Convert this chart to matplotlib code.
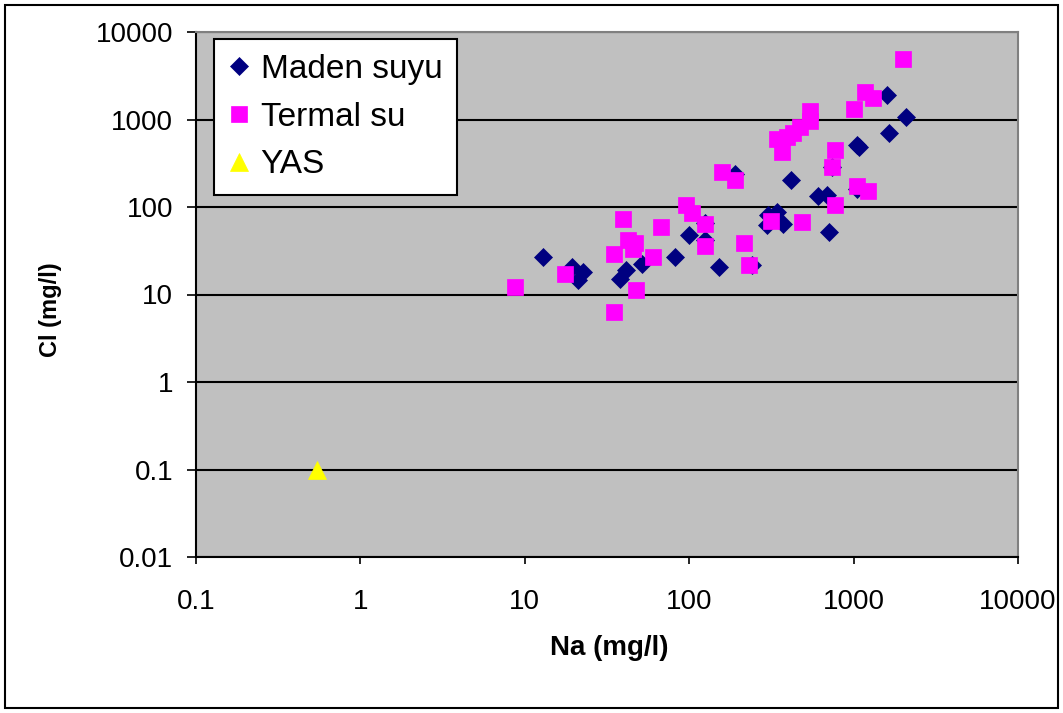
import matplotlib
matplotlib.use("Agg")
import matplotlib.pyplot as plt
from matplotlib.patches import Rectangle

plt.rcParams['font.family'] = ['Liberation Sans', 'DejaVu Sans']

# Data (Na, Cl in mg/l)
na_maden = [12.9, 19.3, 22.7, 21.1, 41.1, 37.9, 51.8, 82, 99.3, 125, 125, 152, 191, 240,
            1589, 2083, 1648, 1050, 1075, 736, 414, 607, 686, 1044, 303, 340, 370, 296, 708]
cl_maden = [26.6, 20.8, 18.2, 14.7, 19, 14.9, 22.1, 26.6, 47.9, 42, 65, 20.8, 240, 21.6,
            1890, 1059, 695, 510, 490, 290, 203, 134, 137, 160, 81, 88.5, 63.4, 62, 51.4]

na_termal = [8.75, 17.6, 35, 35, 39.4, 42.6, 46.8, 45.7, 47.7, 60.2, 67.6, 95.6, 103.5, 125,
             125, 157.7, 190.7, 214.5, 232, 2006, 1168, 1312, 1000, 541, 541, 472, 430, 395,
             340, 368, 767, 736, 1044, 1218, 767, 315, 483]
cl_termal = [12.1, 17.3, 6.3, 28.8, 73.5, 41.6, 38.5, 32.8, 11.3, 26.8, 59, 105, 84.7, 63.4,
             35.8, 253, 203, 38.5, 21.6, 4875, 2046, 1776, 1329, 1251, 961, 815, 695, 636,
             599, 422, 448, 289, 175, 152, 105, 69, 68]

na_yas = [0.545]
cl_yas = [0.1]

series_labels = ["Maden suyu", "Termal su", "YAS"]
x_ticks = [0.1, 1, 10, 100, 1000, 10000]
x_tick_labels = ["0.1", "1", "10", "100", "1000", "10000"]
y_ticks = [0.01, 0.1, 1, 10, 100, 1000, 10000]
y_tick_labels = ["0.01", "0.1", "1", "10", "100", "1000", "10000"]

W, H = 1063, 713
fig = plt.figure(figsize=(W / 100, H / 100), dpi=100)
fig.patch.set_facecolor("white")
ax = fig.add_axes([196 / W, 1 - 557 / H, (1018 - 196) / W, (557 - 32) / H])
ax.set_facecolor("#C0C0C0")
ax.set_xscale("log")
ax.set_yscale("log")
ax.set_xlim(0.1, 10000)
ax.set_ylim(0.01, 10000)

ax.plot(na_maden, cl_maden, linestyle="none", marker="D", ms=9.2, color="#000080",
        mec="#000080", mew=0.5, label=series_labels[0], zorder=3)
ax.plot(na_termal, cl_termal, linestyle="none", marker="s", ms=11.3, color="#FF00FF",
        mec="#FF00FF", mew=0.5, label=series_labels[1], zorder=4)
ax.plot(na_yas, cl_yas, linestyle="none", marker="^", ms=13.5, color="#FFFF00",
        mec="#FFFF00", mew=0.5, label=series_labels[2], zorder=5)

ax.set_xticks(x_ticks)
ax.set_xticklabels(x_tick_labels)
ax.set_yticks(y_ticks)
ax.set_yticklabels(y_tick_labels)
ax.minorticks_off()
ax.tick_params(axis="x", direction="out", length=5, width=1.2, pad=18, labelsize=20)
ax.tick_params(axis="y", direction="out", length=6.5, width=1.2, pad=10, labelsize=20)

ax.set_axisbelow(True)
ax.yaxis.grid(True, color="black", linewidth=1.5)
ax.xaxis.grid(False)

for s in ["left", "bottom"]:
    ax.spines[s].set_color("black")
    ax.spines[s].set_linewidth(1.5)
for s in ["top", "right"]:
    ax.spines[s].set_color("#808080")
    ax.spines[s].set_linewidth(1.5)

fig.text(609 / W, 1 - 648 / H, "Na (mg/l)", fontsize=20, fontweight="bold",
         ha="center", va="center")
fig.text(51 / W, 1 - 310 / H, "Cl (mg/l)", fontsize=17, fontweight="bold",
         ha="center", va="center", rotation=90)

leg = ax.legend(loc="upper left", bbox_to_anchor=(214 / W, 1 - 39 / H),
                bbox_transform=fig.transFigure, fontsize=24, frameon=True,
                fancybox=False, framealpha=1, edgecolor="black", borderpad=0.45,
                handletextpad=0.35, handlelength=0.6, labelspacing=0.5,
                borderaxespad=0)
leg.get_frame().set_linewidth(1.5)
leg.get_frame().set_facecolor("white")

fig.patches.append(Rectangle((5 / W, 5 / H), (W - 10) / W, (H - 10) / H,
                             transform=fig.transFigure, fill=False,
                             edgecolor="black", linewidth=1.5))

fig.savefig("out.png", dpi=100)
